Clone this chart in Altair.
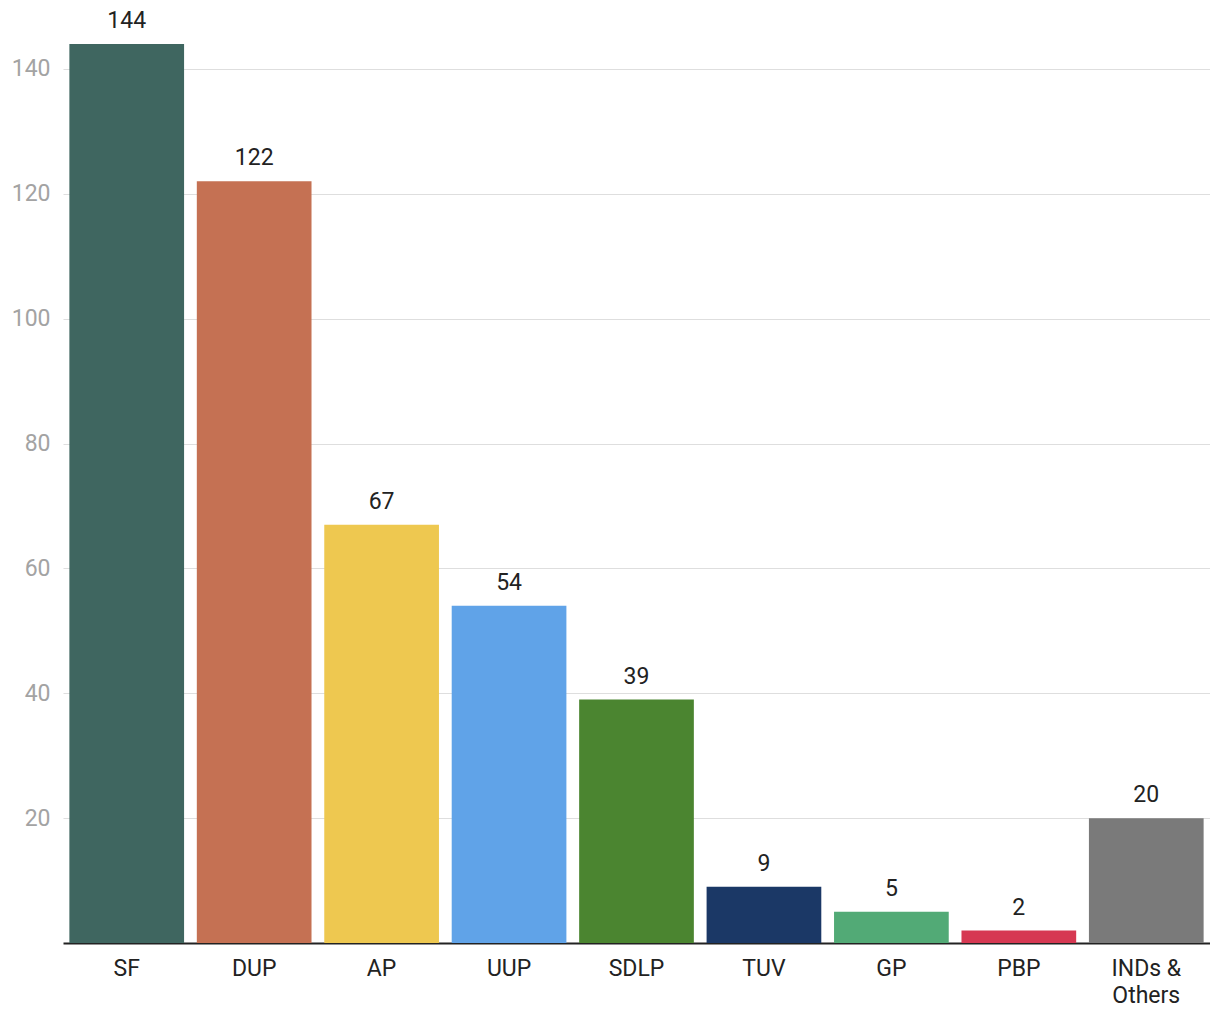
import altair as alt
import pandas as pd

parties = ["SF", "DUP", "AP", "UUP", "SDLP", "TUV", "GP", "PBP", "INDs & Others"]
seats = [144, 122, 67, 54, 39, 9, 5, 2, 20]
colors = ["#3f6660", "#c57153", "#eec850", "#60a3e8", "#4b8530",
          "#1b3866", "#52aa76", "#d63852", "#7a7a7a"]

df = pd.DataFrame({"party": parties, "seats": seats})

x = alt.X("party:N", sort=parties, title=None,
          scale=alt.Scale(paddingInner=0.1, paddingOuter=0.05),
          axis=alt.Axis(labelAngle=0, labelFont="Roboto", labelFontSize=23,
                        labelColor="#222222", labelPadding=14, ticks=False,
                        domainColor="#222222", domainWidth=2,
                        labelLineHeight=27,
                        labelExpr="datum.value == 'INDs & Others' ? ['INDs &', 'Others'] : datum.label"))
y = alt.Y("seats:Q", title=None,
          scale=alt.Scale(domain=[0, 148], nice=False),
          axis=alt.Axis(values=[20, 40, 60, 80, 100, 120, 140], labelFont="Roboto",
                        labelFontSize=23, labelColor="#a3a3a3", labelPadding=13,
                        ticks=False, domain=False, gridColor="#dedede", gridWidth=1.2))

base = alt.Chart(df)
bars = base.mark_bar().encode(
    x=x, y=y,
    color=alt.Color("party:N", scale=alt.Scale(domain=parties, range=colors), legend=None),
)
labels = base.mark_text(font="Roboto", fontSize=23, color="#222222",
                        baseline="alphabetic", dy=-16).encode(
    x=alt.X("party:N", sort=parties), y="seats:Q", text="seats:Q")

chart = (bars + labels).properties(
    width=1147, height=924,
    autosize=alt.AutoSizeParams(type="none"),
    padding={"left": 55, "top": 11, "right": 0, "bottom": 64},
).configure_view(stroke=None)

chart.save("out.html", embed_options={"renderer": "svg", "actions": False})
